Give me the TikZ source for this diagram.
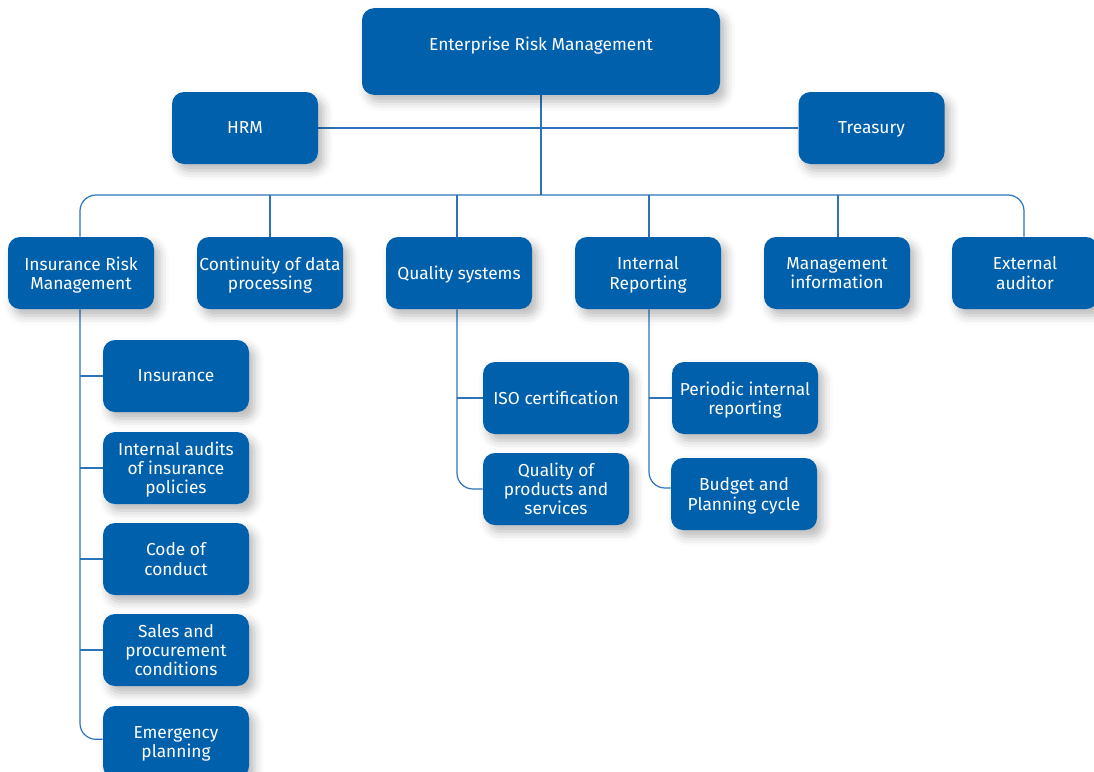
\documentclass[tikz,border=0pt]{standalone}
\usepackage{fontspec}
\setmainfont{Fira Sans}
\usetikzlibrary{shadows.blur,backgrounds}
\definecolor{boxblue}{RGB}{0,96,172}
\definecolor{lineblue}{RGB}{45,115,185}
\begin{document}
\begin{tikzpicture}[x=0.75pt,y=-0.75pt,
  box/.style={fill=boxblue, text=white, rounded corners=9pt, align=center,
    minimum width=109.5pt, minimum height=54pt, inner sep=0pt, text depth=0pt,
    font=\fontsize{13}{14.3}\selectfont,
    blur shadow={shadow xshift=4pt, shadow yshift=-5pt, shadow blur radius=7pt, shadow opacity=28}},
  conn/.style={draw=lineblue, line width=0.9pt},
  round/.style={conn, rounded corners=12pt}]
\useasboundingbox (0,0) rectangle (1094,771);
\node[box, minimum width=268.5pt, minimum height=65pt, text height=9pt, text depth=10.5pt] (erm) at (541,51.5) {Enterprise Risk Management};
\node[box] (hrm) at (245,128) {HRM};
\node[box] (tre) at (871.5,128) {Treasury};
\node[box] (irm) at (81,273) {Insurance Risk\\Management};
\node[box] (cont) at (270,273) {Continuity of data\\processing};
\node[box] (qs) at (459,273) {Quality systems};
\node[box] (ir) at (648,273) {Internal\\Reporting};
\node[box] (mi) at (837,273) {Management\\information};
\node[box] (ea) at (1025,273) {External\\auditor};
\node[box] (ins) at (176,376) {Insurance};
\node[box] (aud) at (176,468) {Internal audits\\of insurance\\policies};
\node[box] (coc) at (176,559) {Code of\\conduct};
\node[box] (sal) at (176,650) {Sales and\\procurement\\conditions};
\node[box] (emg) at (176,742) {Emergency\\planning};
\node[box] (iso) at (556,398) {ISO certification};
\node[box] (qps) at (556,489) {Quality of\\products and\\services};
\node[box] (pir) at (745,398) {Periodic internal\\reporting};
\node[box] (bpc) at (744,494) {Budget and\\Planning cycle};
\coordinate (bus) at (541,195);
\begin{scope}[on background layer]
\draw[conn] (hrm.east) -- (tre.west);
\draw[conn] (erm.south) -- (erm.south |- bus);
\draw[round] ([xshift=-0.75pt]irm.north) -- ([xshift=-0.75pt]irm.north |- bus) -- ([xshift=-0.75pt]ea.north |- bus) -- ([xshift=-0.75pt]ea.north);
\draw[conn] (cont.north) -- (cont.north |- bus);
\draw[conn] ([xshift=-1.5pt]qs.north) -- ([xshift=-1.5pt]qs.north |- bus);
\draw[conn] ([xshift=0.75pt]ir.north) -- ([xshift=0.75pt]ir.north |- bus);
\draw[conn] ([xshift=0.75pt]mi.north) -- ([xshift=0.75pt]mi.north |- bus);
\draw[conn] ([xshift=-0.75pt]irm.south |- ins.west) -- (ins.west);
\draw[conn] ([xshift=-0.75pt]irm.south |- aud.west) -- (aud.west);
\draw[conn] ([xshift=-0.75pt]irm.south |- coc.west) -- (coc.west);
\draw[conn] ([xshift=-0.75pt]irm.south |- sal.west) -- (sal.west);
\draw[round] ([xshift=-0.75pt]irm.south) -- ([xshift=-0.75pt,yshift=2pt]irm.south |- emg.west) -- ([yshift=2pt]emg.west);
\draw[conn] ([xshift=-1.5pt]qs.south |- iso.west) -- (iso.west);
\draw[round] ([xshift=-1.5pt]qs.south) -- ([xshift=-1.5pt]qs.south |- qps.west) -- (qps.west);
\draw[conn] ([xshift=0.75pt]ir.south |- pir.west) -- (pir.west);
\draw[round] ([xshift=0.75pt]ir.south) -- ([xshift=0.75pt,yshift=4.5pt]ir.south |- bpc.west) -- ([yshift=4.5pt]bpc.west);
\end{scope}
\end{tikzpicture}
\end{document}
